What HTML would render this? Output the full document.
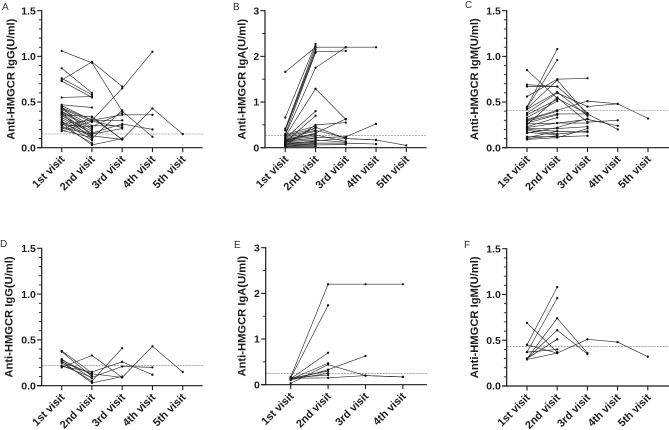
<!DOCTYPE html>
<html>
<head>
<meta charset="utf-8">
<title>Anti-HMGCR antibody titres by visit</title>
<style>
html,body{margin:0;padding:0;background:#fff;width:669px;height:430px;overflow:hidden}
svg{display:block;font-family:"Liberation Sans",Arial,sans-serif}
</style>
</head>
<body>
<svg id="figure" xmlns="http://www.w3.org/2000/svg" width="669" height="430" viewBox="0 0 669 430"></svg>
<script>
const visitsFive = ['1st visit','2nd visit','3rd visit','4th visit','5th visit'];
const visitsFour = ['1st visit','2nd visit','3rd visit','4th visit'];
const ticksLow = ['0.0','0.5','1.0','1.5'];
const ticksHigh = ['0','1','2','3'];

const seriesA = [
[1.06,0.93,0.40,0.12],[0.74,0.94,0.67],[0.87,0.60],[0.76,0.58],[0.73,0.55],[0.55,0.56],
[0.47,0.44],[0.46,0.30,0.65,1.05],[0.45,0.13,0.09,0.43,0.15],[0.44,0.30,0.30],[0.43,0.28],
[0.42,0.24,0.24],[0.40,0.22],[0.39,0.20],[0.38,0.14],[0.37,0.10,0.41],[0.36,0.34,0.09],
[0.35,0.18],[0.33,0.16,0.26,0.20],[0.31,0.13],[0.29,0.08],[0.28,0.12],[0.27,0.03,0.10],
[0.26,0.30,0.36,0.36],[0.25,0.23,0.38],[0.24,0.05],[0.22,0.15,0.21],[0.20,0.33,0.09],
[0.19,0.11],[0.18,0.29,0.22]
];
const seriesB = [
[1.66,2.20,2.20,2.20],[0.66,2.27],[0.42,2.22],[0.40,2.15],[0.38,2.10,2.12],[0.30,2.08],
[0.28,1.75,2.20],[0.25,1.29,0.62],[0.20,0.80],[0.12,0.70],[0.05,0.50,0.55],[0.15,0.32,0.63],
[0.10,0.45,0.20,0.17],[0.14,0.22,0.24,0.52],[0.07,0.15,0.20,0.17,0.05],[0.03,0.10,0.10,0.08],
[0.29,0.47],[0.27,0.42],[0.25,0.38,0.22],[0.22,0.36],[0.20,0.30],[0.18,0.28,0.14],[0.17,0.25],
[0.16,0.20],[0.13,0.17,0.12],[0.11,0.13],[0.09,0.11],[0.08,0.08],[0.06,0.06,0.07],[0.04,0.04],
[0.02,0.03]
];
const seriesC = [
[0.85,0.54,0.37,0.20],[0.69,0.67],[0.67,0.67,0.38],[0.56,0.75,0.76],[0.45,1.08],
[0.44,0.96],[0.43,0.74,0.36],[0.42,0.61,0.35],[0.38,0.60,0.45,0.48,0.32],[0.36,0.53],
[0.33,0.51],[0.31,0.41,0.51,0.48],[0.30,0.40],[0.29,0.37,0.37],[0.27,0.36],[0.26,0.27,0.31,0.24],
[0.25,0.55,0.28,0.30],[0.23,0.33],[0.22,0.27,0.27],[0.21,0.21,0.23],[0.20,0.18],[0.19,0.15,0.18],
[0.17,0.14],[0.16,0.22,0.32],[0.12,0.12,0.13],[0.11,0.18,0.17],[0.10,0.13],[0.09,0.11,0.21]
];
const seriesD = [
[0.38,0.14],[0.37,0.10],[0.29,0.08],[0.28,0.12],[0.27,0.03,0.10],[0.26,0.13,0.09,0.43,0.15],
[0.25,0.05,0.41],[0.20,0.33,0.09],[0.21,0.15,0.26,0.12],[0.22,0.09,0.21,0.20]
];
const seriesE = [
[0.17,2.20,2.20,2.20],[0.15,1.74],[0.13,0.70],[0.12,0.47],[0.03,0.44,0.20,0.17],
[0.10,0.33,0.63],[0.14,0.30],[0.12,0.25],[0.15,0.21],[0.14,0.15,0.20,0.17]
];
const seriesF = [
[0.69,0.37],[0.45,0.36],[0.45,1.08],[0.37,0.96],[0.30,0.74,0.36],[0.30,0.61,0.35],
[0.30,0.51],[0.29,0.36,0.51,0.48,0.32],[0.37,0.40]
];

const cutoffA = 0.15, cutoffB = 0.27, cutoffC = 0.41, cutoffD = 0.22, cutoffE = 0.25, cutoffF = 0.43;

const NS = 'http://www.w3.org/2000/svg';
const figure = document.getElementById('figure');
const INK = '#1c1c1c';

function make(parent, tag, attrs, text) {
  const el = document.createElementNS(NS, tag);
  for (const k in attrs) el.setAttribute(k, attrs[k]);
  if (text !== undefined) el.textContent = text;
  parent.appendChild(el);
  return el;
}

function drawPanel(p) {
  const g = make(figure, 'g', {});
  
  

  const yMax = Number(p.ticks[p.ticks.length - 1]);
  const yPos = v => p.y0 - (v / yMax) * (p.y0 - p.yTop);
  const xPos = i => p.x0 + i * p.dx;

  const letter = make(g, 'text', {x: p.letterX, y: p.letterY, 'font-size': 10, fill: '#333'}, p.letter);
  
  

  const title = make(g, 'text', {
    transform: 'translate(' + p.titleX + ',' + ((p.y0 + p.yTop) / 2 + p.titleShift) + ') rotate(-90)',
    'text-anchor': 'middle', 'font-size': 11.2, 'font-weight': 'bold', fill: INK
  }, p.title);
  
  

  const cutoffLine = make(g, 'line', {
    x1: p.axisX, x2: p.xEnd, y1: yPos(p.cutoff), y2: yPos(p.cutoff),
    stroke: '#6e6e6e', 'stroke-width': 0.6, 'stroke-dasharray': '2 1'
  });
  
  

  p.series.forEach(values => {
    const sg = make(g, 'g', {});
    
    
    const pts = values.map((v, i) => xPos(i).toFixed(2) + ',' + yPos(v).toFixed(2)).join(' ');
    make(sg, 'polyline', {points: pts, fill: 'none', stroke: '#2a2a2a', 'stroke-width': 0.65});
    values.forEach((v, i) => {
      const dot = make(sg, 'circle', {cx: xPos(i), cy: yPos(v), r: 1.15, fill: '#111'});
      
      
    });
  });

  const yAxis = make(g, 'g', {});
  
  
  make(yAxis, 'line', {x1: p.axisX, x2: p.axisX, y1: p.yTop - 0.6, y2: p.y0 + 0.6, stroke: INK, 'stroke-width': 1.2});
  const intervals = p.ticks.length - 1;
  for (let i = 0; i < intervals; i++) {
    for (let m = 1; m < p.minor; m++) {
      const yy = yPos(Number(p.ticks[i]) + (Number(p.ticks[i + 1]) - Number(p.ticks[i])) * m / p.minor);
      make(yAxis, 'line', {x1: p.axisX - 2.8, x2: p.axisX, y1: yy, y2: yy, stroke: INK, 'stroke-width': 0.9});
    }
  }
  p.ticks.forEach(t => {
    const yy = yPos(Number(t));
    make(yAxis, 'line', {x1: p.axisX - 4.6, x2: p.axisX, y1: yy, y2: yy, stroke: INK, 'stroke-width': 1.1});
    const label = make(yAxis, 'text', {
      x: p.axisX - 5.8, y: yy + 3.7, 'text-anchor': 'end', 'font-size': 10.5, 'font-weight': 'bold', fill: INK
    }, t);
    
    
  });

  const xAxis = make(g, 'g', {});
  
  
  make(xAxis, 'line', {x1: p.axisX - 4.6, x2: p.xEnd, y1: p.y0, y2: p.y0, stroke: INK, 'stroke-width': 1.2});
  p.categories.forEach((c, i) => {
    const xx = xPos(i);
    make(xAxis, 'line', {x1: xx, x2: xx, y1: p.y0, y2: p.y0 + 4.4, stroke: INK, 'stroke-width': 1.1});
    const label = make(xAxis, 'text', {
      transform: 'translate(' + (xx + 3.6) + ',' + (p.y0 + 12.2) + ') rotate(-45)',
      'text-anchor': 'end', 'font-size': 10.9, 'font-weight': 'bold', fill: INK
    }, c);
    
    
  });
}

drawPanel({letter:'A', letterX:2, letterY:10, title:'Anti-HMGCR IgG(U/ml)', titleX:14.5, titleShift:0,
  axisX:41.7, xEnd:202.7, x0:61.7, dx:30.25, y0:147.7, yTop:10.7, ticks:ticksLow, minor:5,
  categories:visitsFive, series:seriesA, cutoff:cutoffA});
drawPanel({letter:'B', letterX:233, letterY:10, title:'Anti-HMGCR IgA(U/ml)', titleX:245.5, titleShift:0,
  axisX:265, xEnd:426.7, x0:285.3, dx:30.25, y0:147.7, yTop:10.7, ticks:ticksHigh, minor:2,
  categories:visitsFive, series:seriesB, cutoff:cutoffB});
drawPanel({letter:'C', letterX:465, letterY:8, title:'Anti-HMGCR IgM(U/ml)', titleX:478, titleShift:0,
  axisX:506.7, xEnd:669, x0:527, dx:30.25, y0:147.7, yTop:10.7, ticks:ticksLow, minor:5,
  categories:visitsFive, series:seriesC, cutoff:cutoffC});
drawPanel({letter:'D', letterX:0, letterY:247, title:'Anti-HMGCR IgG(U/ml)', titleX:12.5, titleShift:0,
  axisX:41.7, xEnd:202.7, x0:61.7, dx:30.25, y0:385.7, yTop:248.3, ticks:ticksLow, minor:5,
  categories:visitsFive, series:seriesD, cutoff:cutoffD});
drawPanel({letter:'E', letterX:234, letterY:248, title:'Anti-HMGCR IgA(U/ml)', titleX:245.5, titleShift:0,
  axisX:265.7, xEnd:427, x0:290.7, dx:37.4, y0:384.7, yTop:247.7, ticks:ticksHigh, minor:2,
  categories:visitsFour, series:seriesE, cutoff:cutoffE});
drawPanel({letter:'F', letterX:464, letterY:248, title:'Anti-HMGCR IgM(U/ml)', titleX:478, titleShift:0,
  axisX:506.7, xEnd:669, x0:527, dx:30.2, y0:386, yTop:248.7, ticks:ticksLow, minor:5,
  categories:visitsFive, series:seriesF, cutoff:cutoffF});
</script>
</body>
</html>
